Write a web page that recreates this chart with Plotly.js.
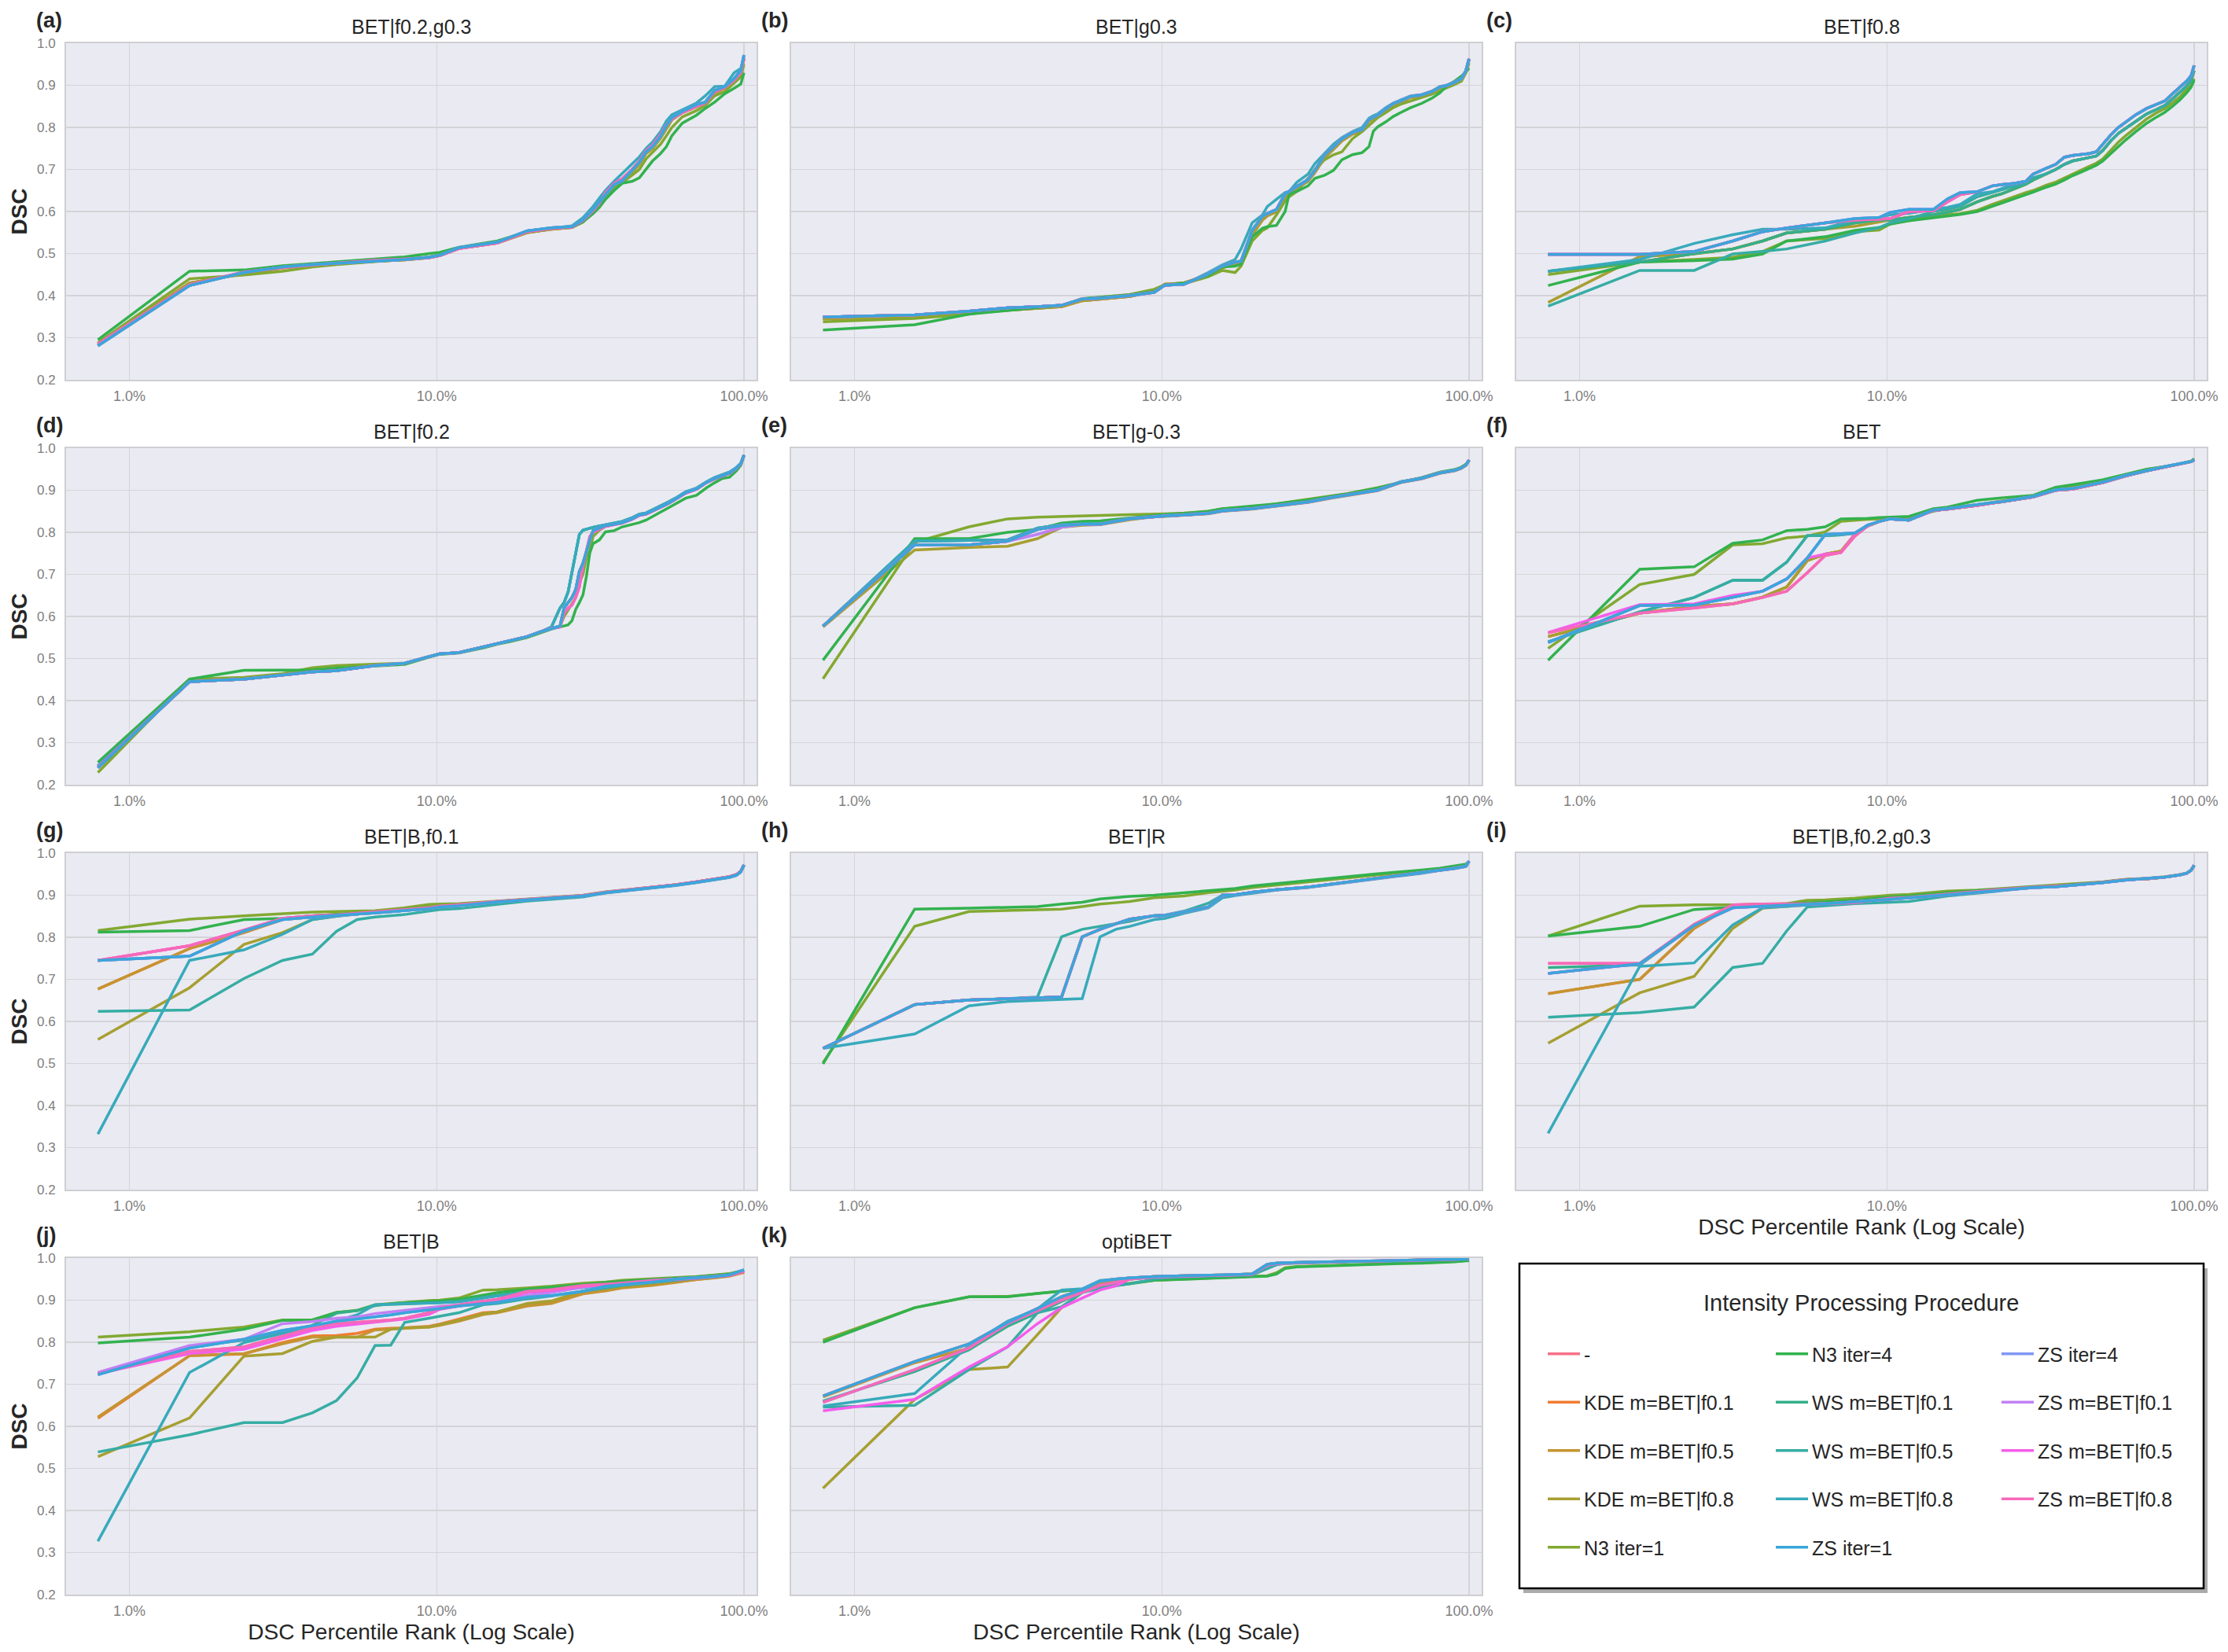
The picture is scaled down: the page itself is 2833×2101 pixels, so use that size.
<!DOCTYPE html>
<html>
<head>
<meta charset="utf-8">
<script src="https://cdn.plot.ly/plotly-3.0.1.min.js"></script>
<style>html,body{margin:0;padding:0;background:#fff}#chart{width:2833px;height:2101px}</style>
</head>
<body>
<div id="chart"></div>
<script>
// ---------------- DATA ----------------
const SERIES = ['-', 'KDE m=BET|f0.1', 'KDE m=BET|f0.5', 'KDE m=BET|f0.8', 'N3 iter=1',
  'N3 iter=4', 'WS m=BET|f0.1', 'WS m=BET|f0.5', 'WS m=BET|f0.8', 'ZS iter=1',
  'ZS iter=4', 'ZS m=BET|f0.1', 'ZS m=BET|f0.5', 'ZS m=BET|f0.8'];
const PANEL_TITLES = ['BET|f0.2,g0.3', 'BET|g0.3', 'BET|f0.8', 'BET|f0.2', 'BET|g-0.3', 'BET',
  'BET|B,f0.1', 'BET|R', 'BET|B,f0.2,g0.3', 'BET|B', 'optiBET'];
const PANEL_LETTERS = ['(a)', '(b)', '(c)', '(d)', '(e)', '(f)', '(g)', '(h)', '(i)', '(j)', '(k)'];
const Y_TICKS = [0.2, 0.3, 0.4, 0.5, 0.6, 0.7, 0.8, 0.9, 1.0];
const Y_TICK_TEXT = ['0.2', '0.3', '0.4', '0.5', '0.6', '0.7', '0.8', '0.9', '1.0'];
const X_TICKS = [1, 10, 100];
const X_TICK_TEXT = ['1.0%', '10.0%', '100.0%'];
const X_TITLE = 'DSC Percentile Rank (Log Scale)';
const Y_TITLE = 'DSC';
const LEGEND_TITLE = 'Intensity Processing Procedure';

// (a) BET|f0.2,g0.3
const X_a = [0.79,1.57,2.36,3.15,3.94,4.72,6.30,7.87,9.45,10.24,11.81,15.75,19.69,23.62,27.56,29.92,32.28,33.86,35.43,37.80,40.16,43.31,45.67,48.03,50.39,53.54,55.91,58.27,62.99,70.08,74.80,80.31,86.61,92.91,97.64,100];
const a_main = [0.281,0.424,0.455,0.468,0.474,0.477,0.483,0.486,0.491,0.496,0.514,0.527,0.554,0.561,0.564,0.580,0.605,0.623,0.642,0.664,0.673,0.698,0.717,0.742,0.754,0.779,0.804,0.823,0.838,0.854,0.860,0.888,0.897,0.916,0.935,0.972];
const a_n3i4 = [0.295,0.458,0.461,0.471,0.476,0.480,0.487,0.492,0.500,0.503,0.515,0.530,0.552,0.560,0.563,0.575,0.595,0.610,0.629,0.650,0.667,0.672,0.680,0.700,0.720,0.738,0.754,0.780,0.810,0.829,0.845,0.860,0.880,0.893,0.903,0.930];
const a_n3i1 = [0.288,0.440,0.449,0.458,0.468,0.474,0.481,0.486,0.492,0.498,0.513,0.527,0.550,0.559,0.563,0.576,0.598,0.615,0.634,0.655,0.668,0.688,0.700,0.725,0.740,0.760,0.780,0.800,0.825,0.840,0.852,0.875,0.885,0.905,0.920,0.950];
const a_ws08 = [0.283,0.424,0.455,0.468,0.474,0.477,0.483,0.486,0.491,0.496,0.514,0.527,0.554,0.561,0.566,0.585,0.612,0.632,0.650,0.672,0.690,0.712,0.730,0.750,0.765,0.790,0.815,0.830,0.842,0.858,0.875,0.897,0.898,0.930,0.940,0.965];
const a_pink = [0.285,0.426,0.456,0.467,0.473,0.477,0.484,0.487,0.490,0.495,0.512,0.525,0.552,0.560,0.563,0.579,0.602,0.620,0.645,0.667,0.678,0.701,0.720,0.745,0.758,0.783,0.806,0.820,0.835,0.850,0.858,0.885,0.895,0.912,0.930,0.965];
const a_kde = [0.285,0.430,0.452,0.466,0.472,0.476,0.482,0.485,0.490,0.495,0.512,0.525,0.550,0.558,0.562,0.575,0.600,0.618,0.640,0.660,0.670,0.695,0.712,0.738,0.750,0.775,0.798,0.818,0.835,0.850,0.858,0.882,0.893,0.912,0.930,0.962];

// (b) BET|g0.3
const X_b = [0.79,1.57,2.36,3.15,3.94,4.72,5.51,6.30,7.87,9.45,10.24,11.81,14.17,15.75,17.32,18.11,19.69,21.26,22.05,23.62,25.20,25.98,27.56,29.92,31.50,33.86,36.22,38.58,41.73,44.88,47.24,48.82,50.39,53.54,56.69,59.84,64.57,70.08,75.59,80.31,85.04,89.76,94.49,97.64,100];
const b_main = [0.349,0.354,0.363,0.371,0.374,0.377,0.392,0.394,0.400,0.408,0.425,0.427,0.452,0.471,0.480,0.482,0.555,0.589,0.595,0.605,0.642,0.648,0.661,0.676,0.698,0.735,0.754,0.773,0.788,0.795,0.819,0.825,0.829,0.844,0.857,0.863,0.874,0.877,0.885,0.896,0.900,0.907,0.916,0.935,0.963];
const b_n3i4 = [0.318,0.331,0.356,0.365,0.372,0.377,0.393,0.396,0.402,0.410,0.426,0.430,0.448,0.468,0.470,0.475,0.540,0.560,0.564,0.567,0.600,0.642,0.648,0.661,0.679,0.686,0.698,0.723,0.735,0.740,0.754,0.791,0.801,0.813,0.826,0.835,0.847,0.857,0.869,0.882,0.900,0.910,0.922,0.932,0.941];
const b_n3i1 = [0.338,0.346,0.356,0.368,0.373,0.377,0.392,0.396,0.403,0.415,0.426,0.428,0.445,0.460,0.455,0.470,0.530,0.555,0.561,0.592,0.625,0.635,0.648,0.679,0.700,0.723,0.735,0.742,0.773,0.790,0.805,0.815,0.823,0.835,0.847,0.855,0.863,0.870,0.879,0.887,0.894,0.902,0.910,0.930,0.953];
const b_ws08 = [0.349,0.354,0.363,0.371,0.374,0.377,0.392,0.394,0.400,0.408,0.425,0.427,0.455,0.473,0.486,0.511,0.573,0.592,0.612,0.630,0.645,0.648,0.670,0.689,0.714,0.738,0.760,0.776,0.790,0.800,0.822,0.828,0.832,0.847,0.858,0.865,0.875,0.878,0.886,0.897,0.901,0.908,0.917,0.935,0.963];
const b_kde = [0.345,0.350,0.359,0.365,0.370,0.374,0.388,0.392,0.398,0.410,0.427,0.430,0.450,0.466,0.476,0.480,0.545,0.580,0.590,0.600,0.632,0.642,0.656,0.672,0.693,0.728,0.748,0.768,0.784,0.792,0.815,0.822,0.826,0.840,0.853,0.860,0.871,0.875,0.883,0.894,0.899,0.906,0.915,0.933,0.960];

// (c) BET|f0.8
const X_c = [0.79,1.57,2.36,3.15,3.94,4.72,6.30,7.87,9.45,10.24,11.81,14.17,15.75,17.32,19.69,22.05,23.62,25.98,28.35,29.92,33.07,35.43,37.80,40.16,43.31,45.67,48.03,50.39,53.54,56.69,59.84,64.57,70.08,75.59,80.31,85.04,89.76,94.49,97.64,100];
const c_blue = [0.498,0.498,0.505,0.530,0.552,0.561,0.573,0.583,0.586,0.598,0.605,0.605,0.630,0.645,0.647,0.661,0.664,0.667,0.672,0.689,0.703,0.712,0.729,0.733,0.736,0.738,0.742,0.760,0.782,0.800,0.812,0.830,0.845,0.855,0.863,0.880,0.895,0.910,0.922,0.947];
const c_pink = [0.498,0.498,0.505,0.530,0.552,0.561,0.573,0.580,0.582,0.583,0.600,0.602,0.623,0.640,0.647,0.661,0.664,0.667,0.672,0.689,0.703,0.712,0.729,0.733,0.736,0.738,0.742,0.760,0.782,0.800,0.812,0.830,0.845,0.855,0.863,0.880,0.895,0.910,0.922,0.947];
const c_kde = [0.458,0.480,0.500,0.511,0.530,0.549,0.558,0.573,0.580,0.580,0.586,0.592,0.598,0.605,0.623,0.636,0.642,0.654,0.665,0.675,0.690,0.700,0.712,0.720,0.725,0.728,0.732,0.745,0.768,0.786,0.798,0.815,0.832,0.843,0.852,0.868,0.884,0.898,0.912,0.935];
const c_kde08 = [0.384,0.493,0.499,0.511,0.530,0.549,0.558,0.565,0.575,0.580,0.586,0.592,0.598,0.605,0.623,0.636,0.642,0.654,0.665,0.675,0.690,0.700,0.712,0.720,0.725,0.728,0.732,0.745,0.768,0.786,0.798,0.815,0.832,0.843,0.852,0.868,0.884,0.898,0.912,0.935];
const c_n3i1 = [0.450,0.480,0.486,0.491,0.505,0.530,0.536,0.552,0.556,0.570,0.580,0.588,0.592,0.595,0.603,0.617,0.625,0.635,0.645,0.650,0.663,0.670,0.680,0.690,0.700,0.708,0.715,0.725,0.745,0.765,0.780,0.800,0.820,0.835,0.845,0.858,0.872,0.890,0.900,0.916];
const c_n3i4 = [0.424,0.480,0.483,0.487,0.499,0.530,0.540,0.555,0.562,0.570,0.578,0.585,0.590,0.593,0.600,0.612,0.620,0.630,0.640,0.646,0.658,0.665,0.675,0.685,0.695,0.703,0.710,0.720,0.738,0.755,0.770,0.790,0.810,0.825,0.836,0.850,0.865,0.882,0.895,0.912];
const c_ws05 = [0.375,0.460,0.460,0.499,0.505,0.511,0.530,0.549,0.562,0.573,0.583,0.600,0.605,0.612,0.635,0.645,0.650,0.660,0.668,0.680,0.690,0.700,0.712,0.720,0.725,0.728,0.732,0.745,0.768,0.786,0.798,0.815,0.832,0.843,0.852,0.868,0.884,0.898,0.912,0.935];
const c_ws08 = [0.458,0.486,0.524,0.545,0.558,0.558,0.561,0.580,0.586,0.592,0.596,0.605,0.610,0.617,0.642,0.647,0.655,0.665,0.672,0.689,0.703,0.712,0.729,0.733,0.736,0.738,0.742,0.760,0.782,0.800,0.812,0.830,0.845,0.855,0.863,0.880,0.895,0.910,0.922,0.947];

// (d) BET|f0.2
const X_d = [0.79,1.57,2.36,3.15,3.94,4.72,5.51,6.30,7.87,9.45,10.24,11.81,14.17,15.75,17.32,19.69,22.05,23.62,25.20,25.98,26.77,27.56,28.35,29.13,29.92,30.71,31.50,32.28,33.86,35.43,37.80,40.16,43.31,45.67,48.03,50.39,53.54,56.69,59.84,64.57,70.08,75.59,80.31,85.04,89.76,94.49,97.64,100];
const d_main = [0.240,0.445,0.451,0.461,0.468,0.471,0.478,0.483,0.489,0.505,0.511,0.514,0.527,0.536,0.542,0.552,0.565,0.572,0.577,0.620,0.633,0.645,0.664,0.707,0.726,0.757,0.782,0.804,0.810,0.816,0.819,0.823,0.832,0.841,0.844,0.851,0.860,0.869,0.879,0.894,0.903,0.919,0.928,0.935,0.941,0.953,0.963,0.984];
const d_n3i4 = [0.253,0.451,0.472,0.472,0.473,0.477,0.480,0.483,0.486,0.503,0.510,0.513,0.525,0.534,0.540,0.550,0.563,0.570,0.575,0.577,0.580,0.590,0.617,0.633,0.651,0.695,0.751,0.773,0.782,0.801,0.804,0.813,0.819,0.823,0.829,0.838,0.848,0.858,0.868,0.881,0.888,0.906,0.918,0.928,0.931,0.946,0.959,0.981];
const d_n3i1 = [0.229,0.451,0.455,0.464,0.478,0.483,0.485,0.487,0.489,0.505,0.511,0.514,0.527,0.536,0.542,0.552,0.565,0.572,0.577,0.600,0.615,0.630,0.645,0.680,0.700,0.740,0.757,0.790,0.805,0.814,0.819,0.823,0.832,0.841,0.844,0.851,0.860,0.869,0.879,0.894,0.903,0.919,0.928,0.935,0.941,0.953,0.963,0.984];
const d_ws = [0.245,0.445,0.451,0.461,0.468,0.471,0.478,0.483,0.489,0.505,0.511,0.514,0.527,0.536,0.542,0.552,0.565,0.575,0.620,0.633,0.658,0.707,0.751,0.795,0.805,0.808,0.810,0.812,0.815,0.818,0.822,0.826,0.835,0.843,0.846,0.853,0.862,0.872,0.881,0.896,0.905,0.920,0.930,0.936,0.943,0.954,0.964,0.984];
const d_zs05 = [0.242,0.445,0.451,0.461,0.468,0.471,0.478,0.483,0.489,0.505,0.511,0.514,0.527,0.536,0.542,0.552,0.565,0.572,0.575,0.608,0.620,0.627,0.645,0.670,0.720,0.757,0.790,0.800,0.808,0.814,0.818,0.822,0.831,0.840,0.843,0.850,0.859,0.868,0.878,0.893,0.902,0.918,0.927,0.934,0.940,0.952,0.962,0.983];

// (e) BET|g-0.3
const X_e = [0.79,1.57,2.36,3.15,3.94,4.72,5.51,6.30,7.87,9.45,10.24,11.81,14.17,15.75,19.69,23.62,29.92,35.43,40.16,50.39,59.84,70.08,80.31,89.76,94.49,97.64,100];
const e_main = [0.577,0.770,0.770,0.779,0.807,0.816,0.819,0.819,0.832,0.838,0.839,0.841,0.845,0.851,0.856,0.863,0.872,0.882,0.888,0.900,0.919,0.928,0.941,0.947,0.953,0.960,0.972];
const e_purple = [0.577,0.770,0.770,0.779,0.795,0.812,0.819,0.819,0.832,0.838,0.839,0.841,0.845,0.851,0.856,0.863,0.872,0.882,0.888,0.900,0.919,0.928,0.941,0.947,0.953,0.960,0.972];
const e_kde08 = [0.575,0.758,0.764,0.767,0.785,0.812,0.817,0.818,0.830,0.837,0.838,0.840,0.844,0.850,0.855,0.862,0.871,0.881,0.887,0.899,0.918,0.927,0.940,0.946,0.952,0.959,0.970];
const e_n3i4 = [0.496,0.785,0.785,0.800,0.807,0.822,0.826,0.827,0.834,0.840,0.842,0.845,0.850,0.856,0.862,0.868,0.877,0.886,0.891,0.905,0.919,0.930,0.943,0.949,0.955,0.962,0.970];
const e_n3i1 = [0.452,0.776,0.813,0.832,0.836,0.838,0.839,0.840,0.842,0.843,0.844,0.846,0.850,0.856,0.860,0.868,0.878,0.886,0.892,0.906,0.919,0.930,0.942,0.949,0.955,0.962,0.970];
const e_ws = [0.577,0.779,0.781,0.782,0.810,0.818,0.820,0.820,0.833,0.838,0.840,0.842,0.846,0.852,0.857,0.864,0.873,0.883,0.889,0.901,0.920,0.929,0.941,0.948,0.953,0.960,0.972];

// (f) BET
const X_f = [0.79,1.57,2.36,3.15,3.94,4.72,5.51,6.30,7.09,7.87,8.66,9.45,10.24,11.81,14.17,15.75,19.69,23.62,29.92,35.43,40.16,50.39,59.84,70.08,80.31,89.76,94.49,97.64,100];
const f_blue = [0.538,0.626,0.627,0.645,0.660,0.689,0.739,0.795,0.797,0.798,0.817,0.826,0.832,0.829,0.853,0.856,0.866,0.873,0.885,0.901,0.904,0.919,0.935,0.947,0.956,0.963,0.966,0.968,0.972];
const f_pink = [0.561,0.608,0.620,0.630,0.645,0.660,0.704,0.745,0.752,0.791,0.815,0.826,0.832,0.829,0.852,0.855,0.864,0.872,0.884,0.900,0.903,0.918,0.934,0.946,0.955,0.962,0.966,0.968,0.972];
const f_mag = [0.562,0.628,0.630,0.650,0.660,0.689,0.739,0.748,0.752,0.795,0.815,0.826,0.832,0.829,0.852,0.855,0.864,0.872,0.884,0.900,0.903,0.918,0.934,0.946,0.955,0.962,0.966,0.968,0.972];
const f_kde = [0.552,0.608,0.624,0.630,0.646,0.670,0.733,0.748,0.755,0.795,0.815,0.826,0.832,0.829,0.852,0.855,0.864,0.872,0.884,0.900,0.903,0.918,0.934,0.946,0.955,0.962,0.966,0.968,0.972];
const f_ws = [0.540,0.611,0.645,0.686,0.686,0.729,0.792,0.792,0.794,0.798,0.815,0.826,0.832,0.829,0.852,0.855,0.864,0.872,0.884,0.900,0.903,0.918,0.934,0.946,0.955,0.962,0.966,0.968,0.972];
const f_n3i4 = [0.496,0.712,0.718,0.774,0.782,0.804,0.807,0.813,0.832,0.832,0.833,0.835,0.836,0.838,0.856,0.860,0.876,0.882,0.888,0.907,0.913,0.925,0.938,0.950,0.956,0.963,0.967,0.969,0.975];
const f_n3i1 = [0.524,0.676,0.700,0.770,0.773,0.787,0.791,0.801,0.826,0.829,0.831,0.832,0.834,0.836,0.850,0.857,0.866,0.874,0.886,0.903,0.908,0.922,0.937,0.949,0.956,0.963,0.967,0.969,0.974];

// (g) BET|B,f0.1
const X_g = [0.79,1.57,2.36,3.15,3.94,4.72,5.51,6.30,7.87,9.45,10.24,11.81,15.75,19.69,23.62,29.92,35.43,40.16,50.39,59.84,70.08,80.31,89.76,94.49,97.64,100];
const g_pink = [0.745,0.780,0.817,0.845,0.851,0.853,0.857,0.860,0.866,0.870,0.874,0.877,0.885,0.890,0.894,0.899,0.907,0.911,0.919,0.925,0.932,0.938,0.944,0.949,0.957,0.972];
const g_blue = [0.745,0.755,0.815,0.842,0.848,0.851,0.855,0.858,0.863,0.868,0.872,0.875,0.884,0.889,0.893,0.898,0.906,0.910,0.918,0.924,0.931,0.937,0.943,0.948,0.956,0.972];
const g_kde = [0.677,0.773,0.811,0.842,0.851,0.854,0.857,0.862,0.867,0.872,0.875,0.878,0.885,0.890,0.894,0.899,0.907,0.911,0.919,0.925,0.932,0.938,0.944,0.949,0.957,0.972];
const g_kde08 = [0.557,0.680,0.783,0.811,0.842,0.850,0.855,0.860,0.866,0.871,0.874,0.877,0.885,0.890,0.894,0.899,0.907,0.911,0.919,0.925,0.932,0.938,0.944,0.949,0.957,0.972];
const g_n3i1 = [0.816,0.843,0.851,0.857,0.860,0.861,0.862,0.863,0.870,0.878,0.879,0.880,0.886,0.891,0.895,0.900,0.908,0.912,0.919,0.925,0.932,0.938,0.944,0.949,0.957,0.972];
const g_n3i4 = [0.812,0.816,0.842,0.845,0.851,0.854,0.857,0.860,0.866,0.871,0.874,0.877,0.884,0.889,0.893,0.898,0.906,0.910,0.918,0.924,0.931,0.937,0.943,0.948,0.956,0.971];
const g_ws05 = [0.624,0.627,0.702,0.745,0.760,0.814,0.842,0.848,0.854,0.862,0.866,0.868,0.878,0.886,0.890,0.896,0.905,0.909,0.917,0.923,0.930,0.936,0.942,0.947,0.955,0.970];
const g_ws08 = [0.332,0.745,0.770,0.807,0.842,0.850,0.855,0.858,0.863,0.868,0.872,0.875,0.884,0.889,0.893,0.898,0.906,0.910,0.918,0.924,0.931,0.937,0.943,0.948,0.956,0.972];

// (h) BET|R
const X_h = [0.79,1.57,2.36,3.15,3.94,4.72,5.51,6.30,7.09,7.87,9.45,10.24,11.81,14.17,15.75,17.32,19.69,23.62,29.92,35.43,40.16,50.39,59.84,70.08,80.31,89.76,97.64,100];
const h_main = [0.536,0.640,0.651,0.654,0.656,0.658,0.801,0.819,0.832,0.843,0.851,0.852,0.860,0.872,0.900,0.901,0.907,0.913,0.919,0.926,0.931,0.941,0.947,0.953,0.960,0.964,0.969,0.981];
const h_ws05 = [0.536,0.640,0.651,0.654,0.658,0.801,0.819,0.826,0.832,0.838,0.852,0.853,0.862,0.881,0.900,0.901,0.907,0.913,0.919,0.926,0.931,0.941,0.947,0.953,0.960,0.964,0.969,0.981];
const h_ws08 = [0.536,0.570,0.637,0.647,0.650,0.652,0.654,0.801,0.819,0.826,0.842,0.845,0.857,0.870,0.894,0.899,0.905,0.912,0.918,0.925,0.930,0.940,0.946,0.952,0.959,0.963,0.968,0.980];
const h_n3i4 = [0.499,0.867,0.869,0.871,0.873,0.879,0.883,0.891,0.894,0.897,0.900,0.902,0.905,0.911,0.913,0.916,0.922,0.928,0.935,0.940,0.944,0.951,0.955,0.960,0.964,0.969,0.974,0.981];
const h_n3i1 = [0.502,0.826,0.861,0.864,0.865,0.867,0.873,0.879,0.882,0.885,0.894,0.895,0.898,0.906,0.909,0.912,0.918,0.924,0.932,0.937,0.942,0.948,0.953,0.958,0.962,0.967,0.972,0.979];

// (i) BET|B,f0.2,g0.3
const X_i = [0.79,1.57,2.36,3.15,3.94,4.72,5.51,6.30,7.87,10.24,11.81,15.75,19.69,23.62,29.92,35.43,40.16,50.39,59.84,70.08,80.31,89.76,94.49,97.64,100];
const i_pink = [0.738,0.738,0.831,0.877,0.879,0.879,0.879,0.880,0.882,0.893,0.895,0.903,0.909,0.914,0.919,0.921,0.924,0.931,0.937,0.939,0.943,0.948,0.952,0.959,0.971];
const i_blue = [0.714,0.737,0.828,0.870,0.874,0.876,0.879,0.880,0.884,0.890,0.893,0.901,0.907,0.912,0.918,0.920,0.923,0.930,0.936,0.939,0.943,0.948,0.952,0.959,0.971];
const i_ws01 = [0.728,0.734,0.828,0.872,0.874,0.876,0.879,0.880,0.884,0.890,0.893,0.901,0.907,0.912,0.918,0.920,0.923,0.930,0.936,0.939,0.943,0.948,0.952,0.959,0.971];
const i_kde = [0.666,0.700,0.821,0.876,0.879,0.879,0.879,0.880,0.882,0.893,0.895,0.903,0.909,0.914,0.919,0.921,0.924,0.931,0.937,0.939,0.943,0.948,0.952,0.959,0.971];
const i_kde08 = [0.548,0.668,0.707,0.821,0.869,0.874,0.877,0.880,0.882,0.893,0.895,0.903,0.909,0.914,0.919,0.921,0.924,0.931,0.937,0.939,0.943,0.948,0.952,0.959,0.971];
const i_n3i1 = [0.803,0.874,0.877,0.877,0.877,0.880,0.888,0.889,0.893,0.900,0.902,0.910,0.912,0.916,0.921,0.923,0.926,0.932,0.938,0.940,0.944,0.949,0.953,0.960,0.971];
const i_n3i4 = [0.803,0.826,0.866,0.872,0.876,0.879,0.882,0.884,0.888,0.896,0.898,0.906,0.911,0.915,0.920,0.922,0.925,0.931,0.937,0.939,0.943,0.948,0.952,0.959,0.971];
const i_ws05 = [0.610,0.621,0.634,0.728,0.738,0.815,0.872,0.875,0.880,0.883,0.885,0.898,0.905,0.911,0.918,0.920,0.923,0.930,0.936,0.939,0.943,0.948,0.952,0.959,0.971];
const i_ws08 = [0.334,0.731,0.739,0.829,0.870,0.874,0.877,0.879,0.883,0.890,0.893,0.901,0.907,0.912,0.918,0.920,0.923,0.930,0.936,0.939,0.943,0.948,0.952,0.959,0.971];

// (j) BET|B
const X_j = [0.79,1.57,2.36,3.15,3.94,4.72,5.51,6.30,7.09,7.87,9.45,10.24,11.81,14.17,15.75,19.69,23.62,29.92,35.43,40.16,50.39,59.84,70.08,80.31,89.76,100];
const j_n3i1 = [0.812,0.825,0.836,0.853,0.853,0.870,0.876,0.889,0.892,0.895,0.899,0.900,0.905,0.924,0.925,0.929,0.933,0.940,0.943,0.947,0.950,0.953,0.956,0.960,0.963,0.971];
const j_n3i4 = [0.798,0.812,0.831,0.852,0.853,0.871,0.875,0.887,0.891,0.894,0.897,0.898,0.902,0.913,0.918,0.926,0.931,0.937,0.941,0.945,0.949,0.952,0.955,0.959,0.962,0.970];
const j_zs01 = [0.728,0.792,0.807,0.844,0.849,0.857,0.860,0.868,0.872,0.876,0.882,0.885,0.889,0.898,0.902,0.911,0.918,0.931,0.936,0.940,0.947,0.950,0.953,0.956,0.960,0.969];
const j_blue = [0.723,0.786,0.807,0.828,0.839,0.850,0.855,0.860,0.865,0.870,0.876,0.880,0.886,0.892,0.895,0.907,0.911,0.921,0.933,0.937,0.943,0.950,0.953,0.956,0.960,0.972];
const j_pink = [0.725,0.778,0.789,0.815,0.834,0.844,0.847,0.850,0.853,0.857,0.870,0.882,0.888,0.897,0.902,0.921,0.925,0.935,0.938,0.941,0.947,0.950,0.953,0.956,0.960,0.969];
const j_mag = [0.725,0.773,0.783,0.808,0.828,0.838,0.843,0.848,0.851,0.855,0.866,0.878,0.886,0.895,0.900,0.918,0.923,0.933,0.937,0.940,0.946,0.949,0.952,0.955,0.959,0.968];
const j_kde01 = [0.619,0.768,0.772,0.799,0.815,0.816,0.821,0.831,0.833,0.834,0.838,0.843,0.855,0.870,0.872,0.889,0.895,0.918,0.924,0.931,0.937,0.943,0.950,0.954,0.958,0.967];
const j_kde05 = [0.622,0.768,0.773,0.796,0.812,0.812,0.812,0.829,0.831,0.833,0.836,0.840,0.850,0.866,0.870,0.886,0.892,0.915,0.922,0.929,0.935,0.942,0.949,0.953,0.957,0.966];
const j_kde08 = [0.528,0.620,0.767,0.773,0.802,0.812,0.812,0.812,0.831,0.834,0.836,0.842,0.852,0.868,0.872,0.892,0.898,0.922,0.928,0.933,0.940,0.946,0.951,0.955,0.959,0.968];
const j_ws05 = [0.539,0.580,0.609,0.609,0.632,0.661,0.715,0.792,0.793,0.847,0.857,0.862,0.870,0.889,0.892,0.903,0.910,0.921,0.930,0.935,0.942,0.948,0.952,0.955,0.959,0.970];
const j_ws08 = [0.327,0.728,0.799,0.821,0.834,0.850,0.865,0.889,0.890,0.891,0.893,0.894,0.896,0.905,0.910,0.918,0.922,0.930,0.935,0.938,0.944,0.950,0.953,0.956,0.960,0.971];
const j_ws01 = [0.723,0.789,0.805,0.826,0.840,0.869,0.875,0.889,0.890,0.891,0.893,0.894,0.897,0.907,0.912,0.920,0.925,0.932,0.936,0.940,0.945,0.951,0.954,0.957,0.961,0.971];

// (k) optiBET
const X_k = [0.79,1.57,2.36,3.15,3.94,4.72,5.51,6.30,7.09,7.87,9.45,10.24,11.81,15.75,19.69,22.05,23.62,25.20,27.56,29.92,35.43,40.16,50.39,59.84,70.08,80.31,89.76,100];
const k_main = [0.672,0.754,0.796,0.847,0.880,0.908,0.925,0.945,0.950,0.953,0.956,0.957,0.958,0.960,0.962,0.985,0.988,0.989,0.990,0.990,0.991,0.992,0.993,0.994,0.995,0.996,0.997,0.998];
const k_kde05 = [0.670,0.751,0.786,0.845,0.878,0.905,0.922,0.940,0.948,0.952,0.956,0.957,0.958,0.960,0.962,0.985,0.988,0.989,0.990,0.990,0.991,0.992,0.993,0.994,0.995,0.996,0.997,0.998];
const k_n3i4 = [0.800,0.882,0.908,0.908,0.916,0.921,0.926,0.931,0.935,0.939,0.947,0.948,0.950,0.953,0.956,0.957,0.962,0.975,0.979,0.980,0.982,0.983,0.985,0.987,0.988,0.989,0.991,0.994];
const k_n3i1 = [0.805,0.882,0.908,0.909,0.916,0.921,0.926,0.931,0.935,0.940,0.947,0.948,0.950,0.953,0.956,0.958,0.965,0.977,0.980,0.981,0.983,0.984,0.986,0.988,0.989,0.990,0.992,0.995];
const k_zs = [0.657,0.735,0.786,0.844,0.875,0.900,0.918,0.935,0.942,0.950,0.955,0.956,0.957,0.959,0.961,0.983,0.987,0.988,0.989,0.990,0.991,0.992,0.993,0.994,0.995,0.996,0.997,0.998];
const k_mag = [0.637,0.664,0.741,0.789,0.844,0.882,0.905,0.924,0.934,0.950,0.955,0.956,0.957,0.959,0.961,0.983,0.987,0.988,0.989,0.990,0.991,0.992,0.993,0.994,0.995,0.996,0.997,0.998];
const k_ws08 = [0.648,0.678,0.792,0.850,0.879,0.924,0.927,0.947,0.950,0.953,0.956,0.957,0.958,0.960,0.962,0.985,0.988,0.989,0.990,0.990,0.991,0.992,0.993,0.994,0.995,0.996,0.997,0.998];
const k_ws05 = [0.646,0.650,0.735,0.789,0.870,0.884,0.918,0.928,0.934,0.939,0.950,0.953,0.955,0.958,0.960,0.975,0.984,0.987,0.988,0.989,0.990,0.991,0.992,0.993,0.994,0.995,0.996,0.997];
const k_kde08 = [0.453,0.664,0.735,0.741,0.818,0.882,0.918,0.931,0.940,0.950,0.955,0.956,0.957,0.959,0.961,0.983,0.987,0.988,0.989,0.990,0.991,0.992,0.993,0.994,0.995,0.996,0.997,0.998];
const k_ws01 = [0.660,0.730,0.782,0.838,0.870,0.897,0.918,0.933,0.942,0.950,0.955,0.956,0.957,0.959,0.961,0.983,0.987,0.988,0.989,0.990,0.991,0.992,0.993,0.994,0.995,0.996,0.997,0.998];

// series (in SERIES order) per panel
const PANELS = [
  {x: X_a, y: [a_pink, a_kde, a_kde, a_kde, a_n3i1, a_n3i4, a_main, a_main, a_ws08, a_main, a_main, a_main, a_pink, a_pink]},
  {x: X_b, y: [b_main, b_kde, b_kde, b_kde, b_n3i1, b_n3i4, b_main, b_main, b_ws08, b_main, b_main, b_main, b_main, b_main]},
  {x: X_c, y: [c_pink, c_kde, c_kde, c_kde08, c_n3i1, c_n3i4, c_kde, c_ws05, c_ws08, c_blue, c_blue, c_blue, c_pink, c_pink]},
  {x: X_d, y: [d_main, d_main, d_main, d_main, d_n3i1, d_n3i4, d_ws, d_ws, d_ws, d_main, d_main, d_main, d_zs05, d_zs05]},
  {x: X_e, y: [e_main, e_main, e_main, e_kde08, e_n3i1, e_n3i4, e_ws, e_ws, e_ws, e_main, e_purple, e_purple, e_main, e_main]},
  {x: X_f, y: [f_pink, f_kde, f_kde, f_kde, f_n3i1, f_n3i4, f_ws, f_ws, f_blue, f_blue, f_blue, f_blue, f_mag, f_pink]},
  {x: X_g, y: [g_pink, g_kde, g_kde, g_kde08, g_n3i1, g_n3i4, g_blue, g_ws05, g_ws08, g_blue, g_blue, g_blue, g_pink, g_pink]},
  {x: X_h, y: [h_main, h_main, h_main, h_main, h_n3i1, h_n3i4, h_main, h_ws05, h_ws08, h_main, h_main, h_main, h_main, h_main]},
  {x: X_i, y: [i_pink, i_kde, i_kde, i_kde08, i_n3i1, i_n3i4, i_ws01, i_ws05, i_ws08, i_blue, i_blue, i_blue, i_blue, i_pink]},
  {x: X_j, y: [j_pink, j_kde01, j_kde05, j_kde08, j_n3i1, j_n3i4, j_ws01, j_ws05, j_ws08, j_blue, j_blue, j_zs01, j_mag, j_pink]},
  {x: X_k, y: [k_main, k_main, k_kde05, k_kde08, k_n3i1, k_n3i4, k_ws01, k_ws05, k_ws08, k_main, k_zs, k_main, k_mag, k_zs]}
];

// ---------------- STYLE ----------------
const W = 2833, H = 2101;
const FONT = 'Liberation Sans, Arial, Helvetica, sans-serif';
const COL_L = [84, 1006, 1928], COL_W = 878;
const ROW_T = [55, 570, 1085, 1600], ROW_H = 428;
const DRAW_ORDER = [0, 1, 2, 3, 4, 5, 6, 7, 8, 10, 11, 12, 13, 9];

// seaborn "husl" palette (HSLuv, s=.9, l=.65)
function huslColor(h, s, l) {
  const M = [[3.2406, -1.5372, -0.4986], [-0.9689, 1.8758, 0.0415], [0.0557, -0.2040, 1.0570]];
  const refU = 0.19784, refV = 0.46834, labE = 0.008856, labK = 903.3;
  const hr = h * Math.PI / 180, sinH = Math.sin(hr), cosH = Math.cos(hr);
  const sub1 = Math.pow(l + 16, 3) / 1560896;
  const sub2 = sub1 > labE ? sub1 : l / labK;
  let mx = Infinity;
  for (const row of M) {
    const [m1, m2, m3] = row;
    const top = (0.99915 * m1 + 1.05122 * m2 + 1.14460 * m3) * sub2;
    const rb = 0.86330 * m3 - 0.17266 * m2;
    const lb = 0.12949 * m3 - 0.38848 * m1;
    const bottom = (rb * sinH + lb * cosH) * sub2;
    for (const t of [0, 1]) {
      const C = l * (top - 1.05122 * t) / (bottom + 0.17266 * sinH * t);
      if (C > 0 && C < mx) mx = C;
    }
  }
  const C = mx / 100 * s;
  const U = Math.cos(hr) * C, V = Math.sin(hr) * C;
  const t = (l + 16) / 116;
  const Y = Math.pow(t, 3) > labE ? Math.pow(t, 3) : (116 * t - 16) / labK;
  const vu = U / (13 * l) + refU, vv = V / (13 * l) + refV;
  const X = -(9 * Y * vu) / ((vu - 4) * vv - vu * vv);
  const Z = (9 * Y - 15 * vv * Y - vv * X) / (3 * vv);
  const rgb = M.map(r => r[0] * X + r[1] * Y + r[2] * Z)
    .map(c => c <= 0.0031308 ? 12.92 * c : 1.055 * Math.pow(c, 1 / 2.4) - 0.055)
    .map(c => Math.round(Math.min(1, Math.max(0, c)) * 255));
  return 'rgb(' + rgb.join(',') + ')';
}
const COLORS = SERIES.map((_, i) => huslColor(((i / SERIES.length) + 0.01) % 1 * 359, 0.9 * 99, 0.65 * 99));

function legendOf(s) { return s < 5 ? 'legend' : (s < 10 ? 'legend2' : 'legend3'); }

const traces = [];
const layout = {
  width: W, height: H,
  margin: {l: 0, r: 0, t: 0, b: 0},
  paper_bgcolor: '#ffffff',
  plot_bgcolor: '#eaeaf2',
  font: {family: FONT, color: '#262626'},
  showlegend: true,
  annotations: [],
  shapes: []
};

PANELS.forEach((p, pi) => {
  const r = Math.floor(pi / 3), c = pi % 3;
  const n = pi + 1;
  const xa = 'xaxis' + (n === 1 ? '' : n), ya = 'yaxis' + (n === 1 ? '' : n);
  const xid = 'x' + (n === 1 ? '' : n), yid = 'y' + (n === 1 ? '' : n);
  const left = COL_L[c], top = ROW_T[r];
  layout[xa] = {
    type: 'log', domain: [left / W, (left + COL_W) / W], anchor: yid,
    range: [-0.206, 2.041], tickvals: X_TICKS, ticktext: X_TICK_TEXT,
    showgrid: true, gridcolor: '#d4d4d8', gridwidth: 1.3, zeroline: false,
    showline: true, linecolor: '#cfcfd3', linewidth: 2, mirror: true,
    ticks: '', ticklabelstandoff: 3,
    tickfont: {family: FONT, size: 18, color: '#808080'}
  };
  if (pi >= 8) {
    layout[xa].title = {text: X_TITLE, font: {family: FONT, size: 28, color: '#262626'}, standoff: 8};
  }
  layout[ya] = {
    domain: [1 - (top + ROW_H) / H, 1 - top / H], anchor: xid,
    range: [0.2, 1.0], tickvals: Y_TICKS, ticktext: Y_TICK_TEXT,
    showgrid: true, gridcolor: '#d4d4d8', gridwidth: 1.3, zeroline: false,
    showline: true, linecolor: '#cfcfd3', linewidth: 2, mirror: true,
    ticks: '', showticklabels: c === 0, ticklabelstandoff: 8,
    tickfont: {family: FONT, size: 17, color: '#808080'}
  };
  if (c === 0) {
    layout[ya].title = {text: Y_TITLE, font: {family: FONT, size: 28, color: '#262626', weight: 700}, standoff: 4};
  }
  layout.annotations.push({
    xref: 'paper', yref: 'paper', x: (left + COL_W / 2) / W, y: 1 - (top - 21) / H,
    xanchor: 'center', yanchor: 'middle', text: PANEL_TITLES[pi], showarrow: false,
    font: {family: FONT, size: 25, color: '#262626'}
  });
  layout.annotations.push({
    xref: 'paper', yref: 'paper', x: (left - 40) / W, y: 1 - (top - 29) / H,
    xanchor: 'left', yanchor: 'middle', text: PANEL_LETTERS[pi], showarrow: false,
    font: {family: FONT, size: 27, color: '#262626', weight: 700}
  });
  DRAW_ORDER.forEach(s => {
    traces.push({
      type: 'scatter', mode: 'lines', x: p.x, y: p.y[s],
      xaxis: xid, yaxis: yid, name: SERIES[s],
      legendgroup: 'g' + s, showlegend: pi === 0, legend: legendOf(s),
      line: {color: COLORS[s], width: 3.5}, hoverinfo: 'skip'
    });
  });
});

// legend box
const BOX = {x0: 1932, x1: 2802, y0: 1607, y1: 2020};
layout.shapes.push({type: 'rect', xref: 'paper', yref: 'paper', layer: 'below',
  x0: (BOX.x0 + 5) / W, x1: (BOX.x1 + 5) / W, y0: 1 - (BOX.y1 + 6) / H, y1: 1 - (BOX.y0 + 6) / H,
  fillcolor: '#ababab', line: {width: 0}});
layout.shapes.push({type: 'rect', xref: 'paper', yref: 'paper', layer: 'below',
  x0: BOX.x0 / W, x1: BOX.x1 / W, y0: 1 - BOX.y1 / H, y1: 1 - BOX.y0 / H,
  fillcolor: '#ffffff', line: {width: 2.5, color: '#000000'}});
layout.annotations.push({xref: 'paper', yref: 'paper', x: 2366 / W, y: 1 - 1657 / H,
  xanchor: 'center', yanchor: 'middle', text: LEGEND_TITLE, showarrow: false,
  font: {family: FONT, size: 29, color: '#262626'}});

const LEG_COMMON = {xanchor: 'left', yanchor: 'top', bgcolor: 'rgba(0,0,0,0)', borderwidth: 0,
  font: {family: FONT, size: 25, color: '#262626'}, traceorder: 'grouped', tracegroupgap: 26,
  itemwidth: 41, orientation: 'v', itemclick: false, itemdoubleclick: false};
const LEG_TOP = 1 - 1699 / H;
layout.legend = Object.assign({x: (1968 - 5) / W, y: LEG_TOP}, LEG_COMMON);
layout.legend2 = Object.assign({x: (2258 - 5) / W, y: LEG_TOP}, LEG_COMMON);
layout.legend3 = Object.assign({x: (2545 - 5) / W, y: LEG_TOP}, LEG_COMMON);

Plotly.newPlot('chart', traces, layout, {displayModeBar: false, staticPlot: true});
</script>
</body>
</html>
